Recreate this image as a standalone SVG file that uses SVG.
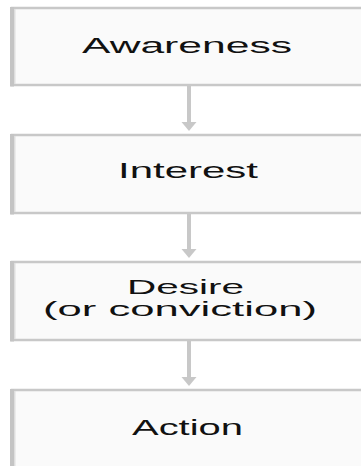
<svg xmlns="http://www.w3.org/2000/svg" width="361" height="466" viewBox="0 0 361 466">
<defs>
<style>
.box{fill:#fafafa;stroke:#c8c8c8;stroke-width:2.5}
.bar{fill:#c4c4c4}
.bar2{fill:#dedede}
.lbl{font-family:"Liberation Sans",Arial,sans-serif;font-size:22px;fill:#111;text-anchor:middle}
.sm{font-size:21px}
.conn{stroke:#c8c8c8;stroke-width:4;fill:none}
.head{fill:#c8c8c8}
</style>
</defs>
<rect width="361" height="466" fill="#ffffff"/>
<g id="connectors">
<line class="conn" x1="189" y1="86" x2="189" y2="124"/>
<polygon class="head" points="181.5,122 196.5,122 189,131"/>
<line class="conn" x1="189" y1="214" x2="189" y2="251"/>
<polygon class="head" points="181.5,249 196.5,249 189,258"/>
<line class="conn" x1="189" y1="341" x2="189" y2="379"/>
<polygon class="head" points="181.5,377 196.5,377 189,386"/>
</g>
<g id="awareness">
<rect class="box" x="12" y="8" width="360" height="77"/>
<rect class="bar" x="10" y="7" width="4" height="79.5"/>
<rect class="bar2" x="14" y="9" width="1.5" height="75"/>
<text class="lbl" x="187" y="53" textLength="210" lengthAdjust="spacingAndGlyphs">Awareness</text>
</g>
<g id="interest">
<rect class="box" x="12" y="135" width="360" height="78"/>
<rect class="bar" x="10" y="134" width="4" height="80.5"/>
<rect class="bar2" x="14" y="136" width="1.5" height="76"/>
<text class="lbl" x="188" y="178" textLength="140" lengthAdjust="spacingAndGlyphs">Interest</text>
</g>
<g id="desire">
<rect class="box" x="12" y="262" width="360" height="78"/>
<rect class="bar" x="10" y="261" width="4" height="80.5"/>
<rect class="bar2" x="14" y="263" width="1.5" height="76"/>
<text class="lbl sm" x="185.5" y="294" textLength="117" lengthAdjust="spacingAndGlyphs">Desire</text>
<text class="lbl sm" x="180" y="316" textLength="274" lengthAdjust="spacingAndGlyphs">(or conviction)</text>
</g>
<g id="action">
<rect class="box" x="12" y="390" width="360" height="90"/>
<rect class="bar" x="10" y="389" width="4" height="80"/>
<rect class="bar2" x="14" y="391" width="1.5" height="78"/>
<text class="lbl" x="187.5" y="435" textLength="111" lengthAdjust="spacingAndGlyphs">Action</text>
</g>
</svg>
